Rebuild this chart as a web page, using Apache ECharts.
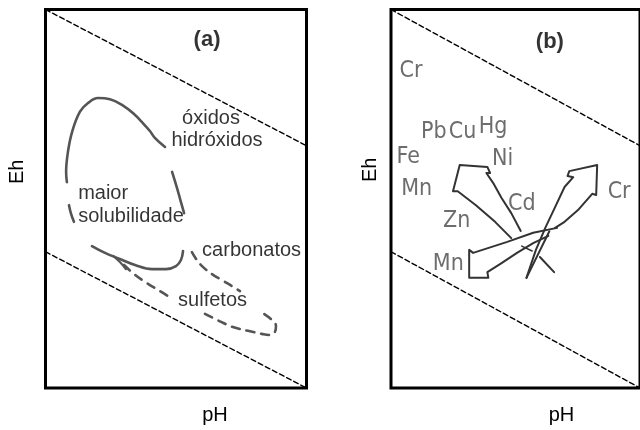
<!DOCTYPE html>
<html>
<head>
<meta charset="utf-8">
<script src="https://cdn.jsdelivr.net/npm/echarts@6/dist/echarts.min.js"></script>
<style>
  html, body { margin: 0; padding: 0; background: #fff; }
  #chart { width: 640px; height: 430px; }
</style>
</head>
<body>
<div id="chart"></div>
<script>
// Schematic Eh–pH fields, both panels on a 0–100 relative scale.
// Water stability limits (dashed diagonals)
var waterUpper = [[0, 100], [100, 64]];
var waterLower = [[0, 36], [100, 0]];

// Panel (a): "maior solubilidade" field outline (solid pieces)
var loopArc = [[8.2, 54.4], [7.9, 57.1], [8.6, 62.4], [10.2, 67.7], [13.2, 73.0], [16.3, 75.3], [20.1, 76.6],
  [24.7, 76.3], [29.3, 74.8], [33.9, 72.4], [36.9, 70.3], [40.0, 67.9], [41.9, 66.1], [45.8, 63.7]];
var loopLeft = [[9.0, 48.3], [9.8, 46.0], [10.9, 43.9]];
var loopRight = [[48.5, 57.1], [50.4, 52.8], [51.9, 49.1], [53.1, 46.2]];
var loopBottom = [[17.8, 37.5], [22.8, 35.7], [28.5, 34.1], [34.3, 32.5], [40.8, 31.4], [46.2, 31.4],
  [50.0, 32.2], [51.9, 33.8], [52.7, 36.2]];
var loopHook = [[25.9, 34.9], [28.5, 33.3], [30.8, 31.4]];

// Panel (a): carbonatos / sulfetos field (dashed pieces)
var carbonatosEdge = [[56.1, 35.9], [58.0, 33.8], [60.3, 32.0], [63.8, 30.1], [67.6, 28.5], [71.5, 26.9], [74.5, 25.6]];
var sulfetosEdge = [[30.1, 32.5], [34.3, 29.9], [38.9, 27.7], [43.9, 25.6], [46.9, 24.3]];
var sulfetosTip = [[61.1, 19.6], [65.7, 18.0], [71.8, 16.1], [77.6, 15.1], [82.9, 14.3], [86.0, 14.0],
  [87.9, 14.8], [88.3, 16.4], [86.4, 18.2], [83.7, 19.6]];

// Panel (a): text labels
var labelsA = ['(a)', 'óxidos', 'hidróxidos', 'maior', 'solubilidade', 'carbonatos', 'sulfetos'];
var labelsAX = [61.9, 63.4, 65.7, 12.5, 12.5, 60.0, 50.8];
var labelsAY = [91.9, 71.3, 65.3, 51.5, 45.4, 36.2, 23.0];
var labelsAAlign = ['center', 'center', 'center', 'left', 'left', 'left', 'left'];

// Panel (b): hollow arrows for metal mobility
var arrowUpLeft = [[48.3, 39.6], [41.8, 43.9], [34.1, 48.3], [26.8, 52.0], [24.9, 52.0], [27.6, 58.9],
  [38.7, 58.4], [39.8, 56.8], [38.3, 56.8], [41.0, 54.2], [44.4, 50.2], [48.3, 46.2], [52.1, 41.5]];
var arrowMn = [[66.7, 42.3], [57.1, 41.0], [46.7, 38.6], [33.0, 35.7], [31.4, 36.5], [31.4, 29.1],
  [39.1, 29.1], [38.7, 30.6], [44.4, 33.0], [50.6, 35.7], [57.1, 38.3], [63.2, 40.2]];
var arrowCr = [[54.4, 29.1], [58.2, 36.5], [62.1, 42.5], [65.9, 47.8], [69.7, 53.1], [73.2, 55.7],
  [70.9, 56.0], [71.6, 57.3], [82.8, 58.9], [82.4, 51.0], [80.8, 51.3], [75.1, 47.0], [69.7, 43.9], [65.9, 42.3]];
var tailWedge = [[54.4, 29.1], [63.6, 41.4]];
var tailCross = [[59.8, 34.6], [65.5, 30.6]];
var tailTick = [[52.5, 37.5], [56.7, 36.2]];

// Panel (b): element labels
var labelsB = ['(b)', 'Cr', 'Pb', 'Cu', 'Hg', 'Fe', 'Mn', 'Ni', 'Cd', 'Zn', 'Mn', 'Cr'];
var labelsBX = [63.8, 8.0, 17.2, 28.7, 41.0, 6.9, 10.3, 44.8, 52.5, 26.4, 23.0, 87.0];
var labelsBY = [91.4, 83.7, 67.6, 67.6, 69.0, 61.0, 52.6, 60.5, 48.6, 44.1, 32.8, 51.8];

var SANS = '"Liberation Sans", Arial, sans-serif';
var LETTERING = '"DejaVu Sans Condensed", "DejaVu Sans", sans-serif';

function curve(data, gi, opts) {
  return {
    type: 'line', xAxisIndex: gi, yAxisIndex: gi, data: data,
    symbol: 'none', silent: true, animation: false,
    smooth: opts.smooth || false,
    lineStyle: { color: opts.color, width: opts.width, type: opts.dash || 'solid', cap: 'round', join: 'round' }
  };
}

function textSeries(names, xs, ys, gi, styleFor) {
  return {
    type: 'scatter', xAxisIndex: gi, yAxisIndex: gi, symbolSize: 0, silent: true, animation: false,
    data: names.map(function (n, i) {
      var s = styleFor(i);
      return {
        name: n, value: [xs[i], ys[i]],
        label: {
          show: true, position: 'inside', formatter: '{b}',
          align: s.align, verticalAlign: 'middle',
          fontFamily: s.font, fontSize: s.size, fontWeight: s.weight, color: s.color
        }
      };
    })
  };
}

function axisPair(gi, padX, gapX, padY, gapY) {
  var hidden = { axisTick: { show: false }, axisLabel: { show: false }, splitLine: { show: false }, axisLine: { show: false } };
  return {
    x: Object.assign({
      type: 'value', gridIndex: gi, min: 0, max: 100, name: 'pH', nameLocation: 'middle', nameGap: gapX,
      nameTextStyle: { fontFamily: SANS, fontSize: 20, color: '#000', padding: [0, 0, 0, padX] }
    }, hidden),
    y: Object.assign({
      type: 'value', gridIndex: gi, min: 0, max: 100, name: 'Eh', nameLocation: 'middle', nameGap: gapY, nameRotate: 90,
      nameTextStyle: { fontFamily: SANS, fontSize: 20, color: '#000', padding: [0, 0, 0, padY] }
    }, hidden)
  };
}

var axA = axisPair(0, 78, 17, 54, 18);
var axB = axisPair(1, 92, 17, 58, 11);

var chart = echarts.init(document.getElementById('chart'), null, { renderer: 'canvas' });
var GREY = '#555';
var INK = '#333';
chart.setOption({
  backgroundColor: '#fff',
  animation: false,
  grid: [
    { left: 45.5, top: 9.5, width: 261, height: 378.5, show: true, borderColor: '#000', borderWidth: 3, backgroundColor: 'transparent' },
    { left: 391, top: 9.5, width: 261, height: 378.5, show: true, borderColor: '#000', borderWidth: 3, backgroundColor: 'transparent' }
  ],
  xAxis: [axA.x, axB.x],
  yAxis: [axA.y, axB.y],
  series: [
    curve(waterUpper, 0, { color: '#000', width: 1.4, dash: [5, 3] }),
    curve(waterLower, 0, { color: '#000', width: 1.4, dash: [5, 3] }),
    curve(waterUpper, 1, { color: '#000', width: 1.4, dash: [5, 3] }),
    curve(waterLower, 1, { color: '#000', width: 1.4, dash: [5, 3] }),

    curve(loopArc, 0, { color: GREY, width: 2.6, smooth: 0.4 }),
    curve(loopLeft, 0, { color: GREY, width: 2.6, smooth: 0.4 }),
    curve(loopRight, 0, { color: GREY, width: 2.6, smooth: 0.4 }),
    curve(loopBottom, 0, { color: GREY, width: 2.6, smooth: 0.4 }),
    curve(loopHook, 0, { color: GREY, width: 2.2, smooth: 0.4 }),
    curve(carbonatosEdge, 0, { color: GREY, width: 2.6, smooth: 0.4, dash: [8, 7] }),
    curve(sulfetosEdge, 0, { color: GREY, width: 2.6, smooth: 0.4, dash: [8, 7] }),
    curve(sulfetosTip, 0, { color: GREY, width: 2.6, smooth: 0.4, dash: [8, 7] }),

    curve(arrowUpLeft, 1, { color: INK, width: 2 }),
    curve(arrowMn, 1, { color: INK, width: 2 }),
    curve(arrowCr, 1, { color: INK, width: 2 }),
    curve(tailWedge, 1, { color: INK, width: 2 }),
    curve(tailCross, 1, { color: INK, width: 2 }),
    curve(tailTick, 1, { color: INK, width: 1.5 }),

    textSeries(labelsA, labelsAX, labelsAY, 0, function (i) {
      return i === 0
        ? { align: 'center', font: SANS, size: 22, weight: 'bold', color: '#000' }
        : { align: labelsAAlign[i], font: SANS, size: 20, weight: 'normal', color: '#000' };
    }),
    textSeries(labelsB, labelsBX, labelsBY, 1, function (i) {
      return i === 0
        ? { align: 'center', font: SANS, size: 22, weight: 'bold', color: '#000' }
        : { align: i === labelsB.length - 1 ? 'left' : 'center', font: LETTERING, size: 23, weight: 'normal', color: '#484848' };
    })
  ]
});
</script>
</body>
</html>
